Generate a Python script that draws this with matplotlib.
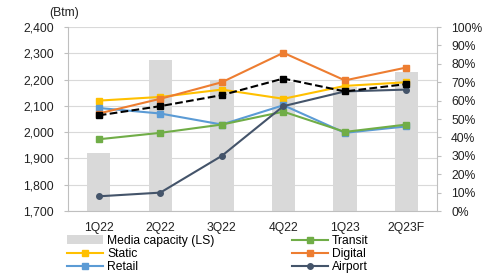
import matplotlib.pyplot as plt
import numpy as np
from matplotlib.ticker import FuncFormatter, PercentFormatter

quarters = ["1Q22", "2Q22", "3Q22", "4Q22", "1Q23", "2Q23F"]
media_capacity = [1920, 2275, 2200, 2190, 2170, 2230]  # Btm, left axis
static = [60, 62, 66, 61, 68, 70]   # %, right axis
retail = [56, 53, 47, 57.5, 42.5, 46]
total = [52, 57, 63, 72, 65, 69]
transit = [39, 42.5, 47, 54, 43, 47]
digital = [53, 61, 70, 86, 71, 78]
airport = [8, 10, 30, 57, 65, 66]

plt.rcParams['font.family'] = ['Liberation Sans', 'DejaVu Sans']
fs = 8.7

fig = plt.figure(figsize=(4.91, 2.73), dpi=100)
ax = fig.add_axes([0.1385, 0.227, 0.752, 0.674])
x = np.arange(len(quarters))

# Media capacity bars (left axis)
bars = ax.bar(x, media_capacity, width=0.38, color='#D9D9D9', zorder=2,
              label="Media capacity (LS)")
ax.set_ylim(1700, 2400)
ax.set_yticks(np.arange(1700, 2401, 100))
ax.yaxis.set_major_formatter(FuncFormatter(lambda v, p: f"{int(v):,}"))
ax.grid(axis='y', color='#D9D9D9', linewidth=0.8, zorder=0)
ax.set_axisbelow(True)
ax.set_xlim(-0.5, 5.5)
ax.set_xticks(x)
ax.set_xticklabels(quarters)
ax.tick_params(axis='y', labelsize=fs, length=3, color='#BFBFBF',
               labelcolor='#222222', pad=7)
ax.tick_params(axis='x', labelsize=fs, length=0, labelcolor='#222222', pad=8)
for s in ['top', 'right']:
    ax.spines[s].set_visible(False)
for s in ['left', 'bottom']:
    ax.spines[s].set_color('#BFBFBF')

# Percent lines (right axis)
ax2 = ax.twinx()
ax2.set_ylim(0, 100)
ax2.set_yticks(np.arange(0, 101, 10))
ax2.yaxis.set_major_formatter(PercentFormatter(decimals=0))
ax2.tick_params(axis='y', labelsize=fs, length=3, color='#BFBFBF',
                labelcolor='#222222', pad=7)
for s in ['top', 'left', 'bottom']:
    ax2.spines[s].set_visible(False)
ax2.spines['right'].set_color('#BFBFBF')

kw = dict(linewidth=1.5, markersize=4)
l_static, = ax2.plot(x, static, color='#FFC000', marker='s', label="Static", **kw)
l_retail, = ax2.plot(x, retail, color='#5B9BD5', marker='s', label="Retail", **kw)
l_transit, = ax2.plot(x, transit, color='#70AD47', marker='s', label="Transit", **kw)
l_digital, = ax2.plot(x, digital, color='#ED7D31', marker='s', label="Digital", **kw)
l_airport, = ax2.plot(x, airport, color='#44546A', marker='o', label="Airport", **kw)
l_total, = ax2.plot(x, total, color='black', marker='s', linestyle='--', label="Total", **kw)

fig.text(0.100, 0.953, "(Btm)", fontsize=fs, ha='left', va='center', color='#222222')

handles = [bars, l_static, l_retail, l_total, l_transit, l_digital, l_airport]
fig.legend(handles=handles, labels=[h.get_label() for h in handles], ncol=2,
           loc='upper left', bbox_to_anchor=(0.1365, 0.140), frameon=False,
           fontsize=fs, handlelength=3.0, handletextpad=0.33, columnspacing=6.4,
           labelspacing=0.1, borderaxespad=0, borderpad=0)

fig.savefig("out.png", dpi=100)
